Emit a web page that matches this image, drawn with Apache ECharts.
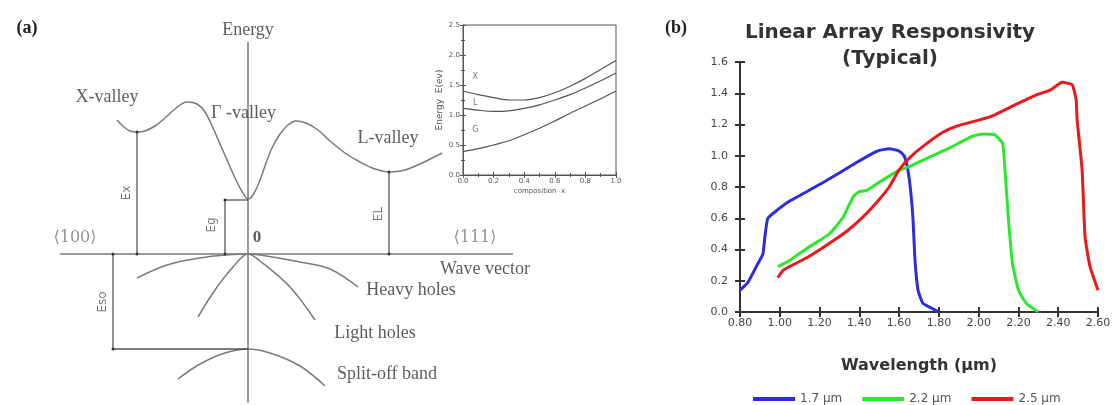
<!DOCTYPE html>
<html><head><meta charset="utf-8">
<script src="https://cdn.jsdelivr.net/npm/echarts@6/dist/echarts.min.js"></script>
<style>html,body{margin:0;padding:0;background:#fff}#c{width:1115px;height:405px}</style>
</head><body><div id="c"></div>
<script>
// ---------- Panel (b): Linear Array Responsivity ----------
const seriesNames = ['1.7 µm', '2.2 µm', '2.5 µm'];
const resp17 = [[0.80,0.14],[0.84,0.19],[0.89,0.31],[0.915,0.37],[0.925,0.48],[0.94,0.60],[0.985,0.65],[1.05,0.71],[1.22,0.83],[1.39,0.96],[1.49,1.03],[1.55,1.045],[1.60,1.03],[1.625,1.00],[1.644,0.91],[1.66,0.75],[1.67,0.59],[1.68,0.33],[1.695,0.14],[1.72,0.055],[1.77,0.02],[1.80,0.0]];
const resp22 = [[0.99,0.29],[1.05,0.33],[1.14,0.41],[1.25,0.50],[1.32,0.61],[1.37,0.74],[1.40,0.77],[1.44,0.78],[1.50,0.83],[1.59,0.90],[1.65,0.93],[1.75,0.99],[1.855,1.05],[1.96,1.12],[2.02,1.14],[2.08,1.135],[2.12,1.08],[2.13,0.95],[2.15,0.59],[2.17,0.31],[2.20,0.14],[2.24,0.055],[2.30,0.0]];
const resp25 = [[0.99,0.22],[1.02,0.27],[1.14,0.35],[1.25,0.44],[1.34,0.52],[1.42,0.61],[1.50,0.72],[1.55,0.80],[1.60,0.91],[1.655,0.99],[1.72,1.06],[1.82,1.15],[1.89,1.19],[2.06,1.25],[2.19,1.33],[2.29,1.39],[2.36,1.42],[2.42,1.47],[2.47,1.455],[2.49,1.36],[2.495,1.23],[2.52,0.91],[2.535,0.48],[2.56,0.29],[2.60,0.14]];
const seriesColors = ['#2d2ddc', '#2ee62e', '#ea1a1a'];

// ---------- Panel (a): band diagram (k = wave vector, E = energy, arbitrary units) ----------
const conductionBand = [[-1.31,1.34],[-1.24,1.27],[-1.18,1.23],[-1.11,1.22],[-1.03,1.23],[-0.93,1.28],[-0.83,1.36],[-0.73,1.45],[-0.61,1.52],[-0.51,1.50],[-0.43,1.42],[-0.35,1.26],[-0.28,1.10],[-0.20,0.92],[-0.12,0.74],[-0.05,0.61],[0,0.55],[0.05,0.59],[0.12,0.74],[0.18,0.91],[0.24,1.06],[0.32,1.20],[0.40,1.29],[0.48,1.33],[0.58,1.31],[0.70,1.24],[0.82,1.13],[0.97,1.01],[1.12,0.92],[1.27,0.85],[1.42,0.82],[1.57,0.84],[1.72,0.90],[1.94,1.01]];
const heavyHoles = [[-1.11,-0.24],[-0.81,-0.11],[-0.48,-0.04],[-0.23,-0.01],[0,0],[0.12,-0.01],[0.52,-0.08],[0.82,-0.15],[1.10,-0.33]];
const lightHoles = [[-0.50,-0.63],[-0.33,-0.36],[-0.15,-0.13],[0,0],[0.12,-0.07],[0.42,-0.33],[0.67,-0.66]];
const splitOffBand = [[-0.70,-1.25],[-0.48,-1.10],[-0.23,-0.99],[0,-0.95],[0.22,-0.99],[0.52,-1.12],[0.77,-1.32]];
const waveVectorAxis = [[-1.88,0],[2.65,0]];
const energyAxis = [[0,-1.49],[0,2.12]];
const gapEx = [[-1.11,0],[-1.11,1.22]];
const gapEg = [[-0.23,0],[-0.23,0.54]];
const gapEgTop = [[-0.23,0.54],[0,0.54]];
const gapEL = [[1.41,0],[1.41,0.82]];
const gapEso = [[-1.35,0],[-1.35,-0.95]];
const gapEsoBase = [[-1.35,-0.95],[0,-0.95]];

// Inset: energy vs composition x
const insetX = [[0,1.40],[0.1,1.34],[0.2,1.29],[0.3,1.25],[0.4,1.25],[0.5,1.29],[0.6,1.37],[0.7,1.48],[0.8,1.61],[0.9,1.76],[1.0,1.91]];
const insetL = [[0,1.11],[0.1,1.08],[0.2,1.06],[0.3,1.07],[0.4,1.11],[0.5,1.17],[0.6,1.25],[0.7,1.34],[0.8,1.45],[0.9,1.57],[1.0,1.70]];
const insetG = [[0,0.39],[0.1,0.44],[0.2,0.50],[0.3,0.57],[0.4,0.67],[0.5,0.78],[0.6,0.90],[0.7,1.03],[0.8,1.15],[0.9,1.27],[1.0,1.40]];
const insetCurveNames = ['X', 'L', 'G'];

// ---------- build ----------
const serif = '"Liberation Serif","DejaVu Serif",serif';
const sans = '"DejaVu Sans",Verdana,sans-serif';
const diagLine = {color:'#7a7a7a', width:1.5};
const arrowLine = {color:'#555', width:1.3};

function diag(data, style, smooth, ends) {
  return {type:'line', xAxisIndex:0, yAxisIndex:0, data, smooth: smooth ? 0.35 : false,
    symbol: ends ? 'circle' : 'none', symbolSize: 3, showSymbol: !!ends,
    itemStyle:{color:'#333'}, lineStyle: style, silent:true, animation:false, z:2};
}
function textAt(k, E, text, font, extra) {
  return Object.assign({value:[k,E], label:Object.assign({show:true, formatter:text, position:'inside', fontFamily:serif, fontSize:18, color:'#333'}, font || {})}, extra || {});
}
const diagLabels = [
  textAt(0, 2.24, 'Energy'),
  textAt(-1.41, 1.57, 'X-valley'),
  textAt(-0.045, 1.41, 'Γ -valley'),
  textAt(1.40, 1.16, 'L-valley'),
  textAt(-1.73, 0.16, '⟨100⟩', {color:'#777', fontFamily:'"DejaVu Serif",serif', fontSize:16}),
  textAt(0.09, 0.16, '0', {fontWeight:'bold', fontSize:17}),
  textAt(2.27, 0.16, '⟨111⟩', {color:'#777', fontFamily:'"DejaVu Serif",serif', fontSize:16}),
  textAt(2.37, -0.15, 'Wave vector'),
  textAt(1.63, -0.36, 'Heavy holes'),
  textAt(1.27, -0.79, 'Light holes'),
  textAt(1.39, -1.20, 'Split-off band'),
  textAt(-1.21, 0.61, 'Ex', {fontFamily:sans, fontSize:12, color:'#555', rotate:90}),
  textAt(-0.36, 0.29, 'Eg', {fontFamily:sans, fontSize:12, color:'#555', rotate:90}),
  textAt(1.31, 0.40, 'EL', {fontFamily:sans, fontSize:12, color:'#555', rotate:90}),
  textAt(-1.45, -0.48, 'Eso', {fontFamily:sans, fontSize:12, color:'#555', rotate:90})
];
const insetLabelPos = [[0.08,1.63],[0.08,1.20],[0.08,0.75]];

const option = {
  backgroundColor:'#fff',
  animation:false,
  grid:[
    {left:0, top:0, width:690, height:405},
    {left:463, top:25, width:153, height:150, show:true, borderColor:'#555', borderWidth:1},
    {left:740, top:62, width:358, height:250}
  ],
  xAxis:[
    {gridIndex:0, type:'value', min:-2.48, max:4.42, show:false},
    {gridIndex:1, type:'value', min:0, max:1, interval:0.2, position:'bottom', axisLine:{show:true, lineStyle:{color:'#555'}},
      axisTick:{inside:true, length:3, lineStyle:{color:'#555'}}, minorTick:{show:true, splitNumber:2, length:2, lineStyle:{color:'#555'}},
      splitLine:{show:false}, axisLabel:{fontSize:7, color:'#555', margin:3, fontFamily:sans, formatter:v=>v.toFixed(1)},
      name:'composition  x', nameLocation:'middle', nameGap:13, nameTextStyle:{fontSize:7, color:'#555', fontFamily:sans}},
    {gridIndex:1, type:'value', min:0, max:1, interval:0.2, position:'top', axisLine:{show:false},
      axisTick:{inside:true, length:3, lineStyle:{color:'#555'}}, minorTick:{show:true, splitNumber:2, length:2, lineStyle:{color:'#555'}}, axisLabel:{show:false}, splitLine:{show:false}},
    {gridIndex:2, type:'value', min:0.8, max:2.6, interval:0.2, position:'bottom',
      axisLine:{lineStyle:{color:'#333', width:2}}, axisTick:{length:5, lineStyle:{color:'#333', width:2}},
      splitLine:{show:false}, axisLabel:{fontSize:11, color:'#444', fontFamily:sans, margin:6, formatter:v=>v.toFixed(2)},
      name:'Wavelength (µm)', nameLocation:'middle', nameGap:46, nameTextStyle:{fontSize:16, fontWeight:'bold', color:'#333', fontFamily:sans}},
    {gridIndex:2, type:'value', min:0.8, max:2.6, interval:0.2, position:'bottom', axisLine:{show:false},
      axisTick:{inside:true, length:5, lineStyle:{color:'#333', width:2}}, axisLabel:{show:false}, splitLine:{show:false}}
  ],
  yAxis:[
    {gridIndex:0, type:'value', min:-1.51, max:2.54, show:false},
    {gridIndex:1, type:'value', min:0, max:2.5, interval:0.5, position:'left', axisLine:{show:true, lineStyle:{color:'#555'}},
      axisTick:{inside:true, length:3, lineStyle:{color:'#555'}}, minorTick:{show:true, splitNumber:2, length:2, lineStyle:{color:'#555'}},
      splitLine:{show:false}, axisLabel:{fontSize:7, color:'#555', margin:3, fontFamily:sans, formatter:v=>v.toFixed(1)},
      name:'Energy  E(ev)', nameLocation:'middle', nameGap:19, nameTextStyle:{fontSize:9, color:'#555', fontFamily:sans}},
    {gridIndex:1, type:'value', min:0, max:2.5, interval:0.5, position:'right', axisLine:{show:false},
      axisTick:{inside:true, length:3, lineStyle:{color:'#555'}}, minorTick:{show:true, splitNumber:2, length:2, lineStyle:{color:'#555'}}, axisLabel:{show:false}, splitLine:{show:false}},
    {gridIndex:2, type:'value', min:0, max:1.6, interval:0.2, position:'left',
      axisLine:{show:true, lineStyle:{color:'#333', width:2}}, axisTick:{show:true, length:5, lineStyle:{color:'#333', width:2}},
      splitLine:{show:false}, axisLabel:{fontSize:11, color:'#444', fontFamily:sans, margin:12, formatter:v=>v.toFixed(1)}},
    {gridIndex:2, type:'value', min:0, max:1.6, interval:0.2, position:'left', axisLine:{show:false},
      axisTick:{show:true, inside:true, length:5, lineStyle:{color:'#333', width:2}}, axisLabel:{show:false}, splitLine:{show:false}}
  ],
  legend:{data:seriesNames, left:748, top:388, icon:'rect', itemWidth:42, itemHeight:4, itemGap:20,
    textStyle:{fontSize:12, color:'#555', fontFamily:sans}},
  graphic:[
    {type:'text', x:27, y:28, style:{text:'(a)', font:'bold 18px '+serif, fill:'#222', textAlign:'center', textVerticalAlign:'middle'}},
    {type:'text', x:676, y:28, style:{text:'(b)', font:'bold 18px '+serif, fill:'#222', textAlign:'center', textVerticalAlign:'middle'}},
    {type:'text', x:890, y:20, style:{text:'Linear Array Responsivity\n(Typical)', font:'bold 20px '+sans, fill:'#333', textAlign:'center', lineHeight:26}}
  ],
  series:[
    diag(energyAxis, diagLine),
    diag(waveVectorAxis, diagLine),
    diag(conductionBand, diagLine, true),
    diag(heavyHoles, diagLine, true),
    diag(lightHoles, diagLine, true),
    diag(splitOffBand, diagLine, true),
    diag(gapEx, arrowLine, false, true),
    diag(gapEg, arrowLine, false, true),
    diag(gapEgTop, arrowLine),
    diag(gapEL, arrowLine, false, true),
    diag(gapEso, arrowLine, false, true),
    diag(gapEsoBase, arrowLine),
    {type:'scatter', xAxisIndex:0, yAxisIndex:0, symbolSize:0, data:diagLabels, silent:true, z:5},
    {type:'line', xAxisIndex:1, yAxisIndex:1, data:insetX, smooth:0.3, symbol:'none', lineStyle:{color:'#555', width:1.2}, silent:true},
    {type:'line', xAxisIndex:1, yAxisIndex:1, data:insetL, smooth:0.3, symbol:'none', lineStyle:{color:'#555', width:1.2}, silent:true},
    {type:'line', xAxisIndex:1, yAxisIndex:1, data:insetG, smooth:0.3, symbol:'none', lineStyle:{color:'#555', width:1.2}, silent:true},
    {type:'scatter', xAxisIndex:1, yAxisIndex:1, symbolSize:0, silent:true,
      data:insetCurveNames.map((n,i)=>({value:insetLabelPos[i], label:{show:true, position:'inside', formatter:n, fontSize:8, color:'#555', fontFamily:sans}}))},
    {type:'line', name:seriesNames[0], xAxisIndex:3, yAxisIndex:3, data:resp17, smooth:0.15, symbol:'none', color:seriesColors[0], lineStyle:{width:3}},
    {type:'line', name:seriesNames[1], xAxisIndex:3, yAxisIndex:3, data:resp22, smooth:0.15, symbol:'none', color:seriesColors[1], lineStyle:{width:3}},
    {type:'line', name:seriesNames[2], xAxisIndex:3, yAxisIndex:3, data:resp25, smooth:0.15, symbol:'none', color:seriesColors[2], lineStyle:{width:3}}
  ]
};
const chart = echarts.init(document.getElementById('c'), null, {renderer:'canvas'});
chart.setOption(option);
</script></body></html>
